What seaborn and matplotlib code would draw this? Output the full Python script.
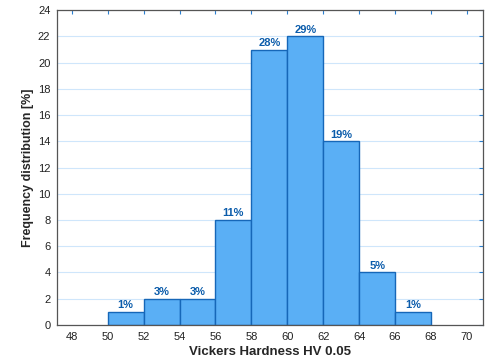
import numpy as np
import pandas as pd
import matplotlib
matplotlib.use("Agg")
import matplotlib.pyplot as plt
import seaborn as sns

# данные гистограммы
bin_edges = [50, 52, 54, 56, 58, 60, 62, 64, 66, 68]
counts = [1, 2, 2, 8, 21, 22, 14, 4, 1]
pct_labels = ["1%", "3%", "3%", "11%", "28%", "29%", "19%", "5%", "1%"]

centers = [(a + b) / 2 for a, b in zip(bin_edges[:-1], bin_edges[1:])]
df = pd.DataFrame({"hv": centers, "n": counts})

sns.set_style("white")
plt.rcParams['font.family'] = ['Liberation Sans', 'DejaVu Sans']

fig, ax = plt.subplots(figsize=(4.9, 3.63), dpi=100)
ax.yaxis.grid(True, color="#cfe6fb", lw=0.8)
ax.set_axisbelow(True)

sns.histplot(data=df, x="hv", weights="n", bins=bin_edges, ax=ax,
             color="#5aaff5", edgecolor="#1667b8", linewidth=1.0, alpha=1.0)

for c, n, lab in zip(centers, counts, pct_labels):
    ax.text(c, n + 0.12, lab, ha="center", va="bottom", fontsize=8,
            fontweight="bold", color="#0b5cab")

ax.set_xlim(47.2, 70.9)
ax.set_ylim(0, 24)
ax.set_xticks(np.arange(48, 71, 2))
ax.set_yticks(np.arange(0, 25, 2))
ax.tick_params(direction="in", length=3, color="#2a7fd0", labelsize=8,
               top=True, right=True, labelcolor="#222222", pad=5)
for s in ax.spines.values():
    s.set_color("#555555")
    s.set_linewidth(0.9)

ax.set_xlabel("Vickers Hardness HV 0.05", fontsize=9.5, fontweight="bold", labelpad=3)
ax.set_ylabel("Frequency distribution [%]", fontsize=9, fontweight="bold", labelpad=3)

plt.subplots_adjust(left=0.117, right=0.986, top=0.972, bottom=0.105)
fig.savefig("out.png", dpi=100)
